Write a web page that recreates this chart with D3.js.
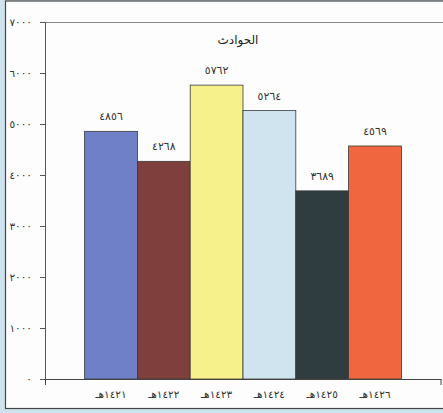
<!doctype html>
<html>
<head>
<meta charset="utf-8">
<style>
  body { margin: 0; background: #cfe3ef; }
  text { font-family: "DejaVu Sans", sans-serif; }
</style>
<script src="https://d3js.org/d3.v7.min.js"></script>
</head>
<body>
<script>
  var years = ["١٤٢١هـ", "١٤٢٢هـ", "١٤٢٣هـ", "١٤٢٤هـ", "١٤٢٥هـ", "١٤٢٦هـ"];
  var accidents = [4856, 4268, 5762, 5264, 3689, 4569];
  var barColors = ["#6f80c9", "#7e3f3d", "#f7f18c", "#cfe4ee", "#2f3c40", "#f0663e"];
  var yTicks = [0, 1000, 2000, 3000, 4000, 5000, 6000, 7000];
  var title = "الحوادث";

  var width = 443, height = 413;
  var plotLeft = 45, plotRight = 441, plotTop = 22, plotBottom = 379;

  // arabic-indic digits
  function ar(n) {
    return String(n).replace(/[0-9]/g, function(d) { return "٠١٢٣٤٥٦٧٨٩"[+d]; });
  }

  var svg = d3.select("body").append("svg")
    .attr("width", width)
    .attr("height", height);

  // white panel with dark frame
  svg.append("rect")
    .attr("x", 5.5).attr("y", 1)
    .attr("width", width + 5).attr("height", 407.5)
    .attr("fill", "#fdfdfd")
    .attr("stroke", "#444").attr("stroke-width", 1.2);

  var xScale = d3.scaleBand()
    .domain(years)
    .range([plotLeft, plotRight])
    .paddingInner(0)
    .paddingOuter(0.75);
  var yScale = d3.scaleLinear()
    .domain([0, 7000])
    .range([plotBottom, plotTop]);

  // plot area top border
  svg.append("line")
    .attr("x1", plotLeft).attr("x2", width)
    .attr("y1", plotTop + 0.5).attr("y2", plotTop + 0.5)
    .attr("stroke", "#888");

  // bars
  svg.selectAll(".bar")
    .data(accidents)
    .enter().append("rect")
    .attr("class", "bar")
    .attr("x", function(d, i) { return xScale(years[i]); })
    .attr("y", function(d) { return yScale(d); })
    .attr("width", xScale.bandwidth())
    .attr("height", function(d) { return plotBottom - yScale(d); })
    .attr("fill", function(d, i) { return barColors[i]; })
    .attr("stroke", "#3a3a3a")
    .attr("stroke-width", 0.8);

  // value labels
  svg.selectAll(".val")
    .data(accidents)
    .enter().append("text")
    .attr("class", "val")
    .attr("x", function(d, i) { return xScale(years[i]) + xScale.bandwidth() / 2; })
    .attr("y", function(d) { return yScale(d) - 11; })
    .attr("text-anchor", "middle")
    .attr("font-size", 11)
    .attr("letter-spacing", 0.5)
    .attr("fill", "#333")
    .text(function(d) { return ar(d); });

  // y axis
  var yAxis = svg.append("g")
    .attr("transform", "translate(" + plotLeft + ",0)")
    .call(d3.axisLeft(yScale).tickValues(yTicks).tickSize(5).tickPadding(8)
      .tickFormat(function(d) { return ar(d); }));
  yAxis.select(".domain").attr("stroke", "#555");
  yAxis.selectAll(".tick line").attr("stroke", "#555");
  yAxis.selectAll("text").attr("font-size", 10.5).attr("fill", "#333")
    .attr("letter-spacing", 1.5)
    .attr("font-family", "DejaVu Sans");

  // x axis
  var xAxis = svg.append("g")
    .attr("transform", "translate(0," + plotBottom + ")")
    .call(d3.axisBottom(xScale).tickSize(0).tickPadding(12));
  xAxis.select(".domain").attr("stroke", "#444");
  xAxis.selectAll("text").attr("font-size", 10.5).attr("fill", "#333")
    .attr("font-family", "DejaVu Sans").attr("direction", "rtl");
  xAxis.append("line")
    .attr("x1", plotRight).attr("x2", plotRight)
    .attr("y1", 0).attr("y2", 6)
    .attr("stroke", "#444");
  xAxis.append("line")
    .attr("x1", plotLeft + 0.5).attr("x2", plotLeft + 0.5)
    .attr("y1", 0).attr("y2", 6)
    .attr("stroke", "#444");

  // title
  svg.append("text")
    .attr("x", 238).attr("y", 44)
    .attr("text-anchor", "middle")
    .attr("font-size", 12)
    .attr("fill", "#222")
    .text(title);
</script>
</body>
</html>
